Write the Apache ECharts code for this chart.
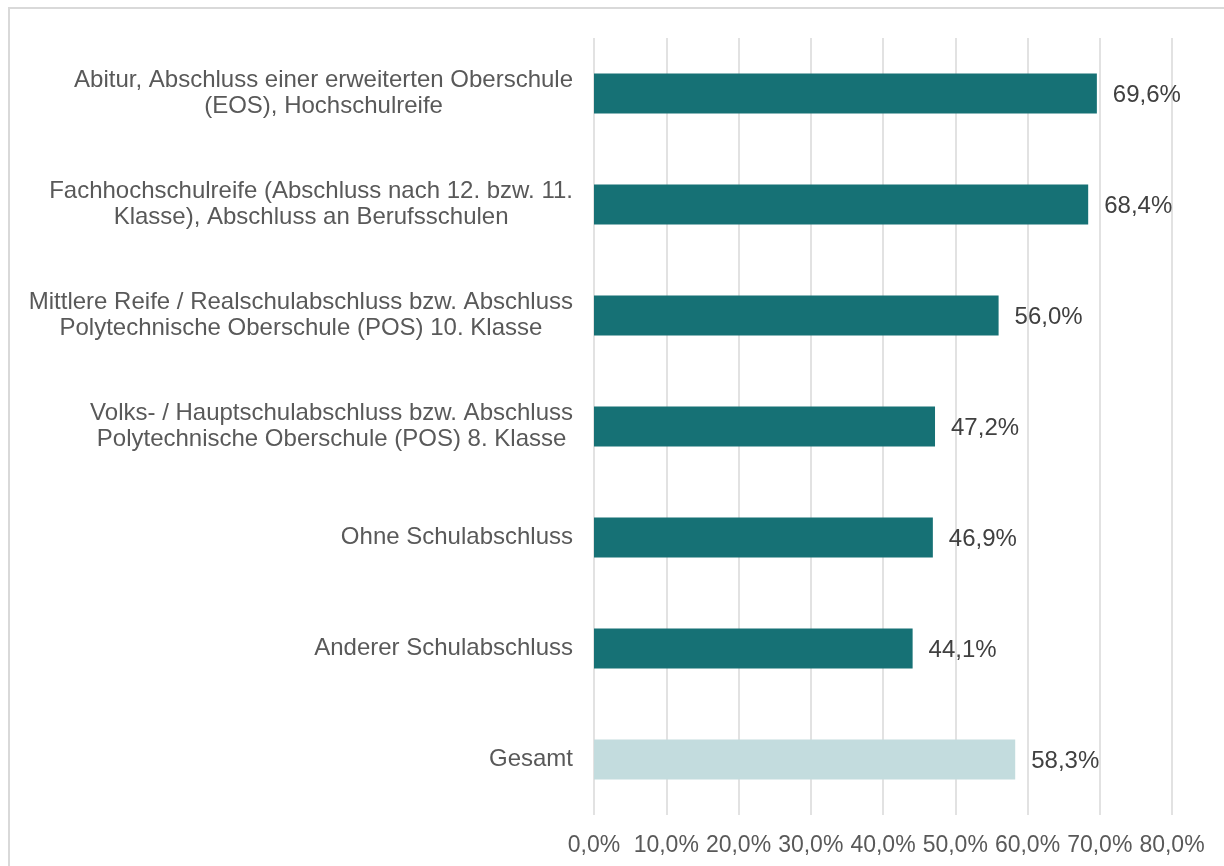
<!DOCTYPE html>
<html>
<head>
<meta charset="utf-8">
<script src="https://cdn.jsdelivr.net/npm/echarts@6/dist/echarts.min.js"></script>
<style>
  html, body { margin: 0; padding: 0; background: #fff; }
  #main { width: 1224px; height: 866px; }
</style>
</head>
<body>
<div id="main"></div>
<script>
const categories = [
  "Abitur, Abschluss einer erweiterten Oberschule\n(EOS), Hochschulreife",
  "Fachhochschulreife (Abschluss nach 12. bzw. 11.\nKlasse), Abschluss an Berufsschulen",
  "Mittlere Reife / Realschulabschluss bzw. Abschluss\nPolytechnische Oberschule (POS) 10. Klasse",
  "Volks- / Hauptschulabschluss bzw. Abschluss\nPolytechnische Oberschule (POS) 8. Klasse",
  "Ohne Schulabschluss",
  "Anderer Schulabschluss",
  "Gesamt"
];
const values = [69.6, 68.4, 56.0, 47.2, 46.9, 44.1, 58.3];
const highlightIndex = 6; // "Gesamt" drawn in light colour

const fmt = v => v.toFixed(1).replace(".", ",") + "%";

const myChart = echarts.init(document.getElementById("main"));

const option = {
  animation: false,
  textStyle: { fontFamily: "Liberation Sans, Arial, sans-serif" },
  graphic: [
    {
      type: "rect",
      shape: { x: 9, y: 8, width: 1400, height: 1000 },
      style: { fill: "none", stroke: "#d9d9d9", lineWidth: 2 },
      silent: true
    }
  ],
  grid: { left: 594, right: 52, top: 38, bottom: 51 },
  xAxis: {
    type: "value",
    min: 0,
    max: 80,
    interval: 10,
    axisLine: { show: false },
    axisTick: { show: false },
    splitLine: { show: true, lineStyle: { color: "#d9d9d9", width: 1.5 } },
    axisLabel: {
      color: "#595959",
      fontSize: 23,
      margin: 19,
      formatter: v => fmt(v)
    }
  },
  yAxis: {
    type: "category",
    inverse: true,
    data: categories,
    axisLine: { show: false },
    axisTick: { show: false },
    axisLabel: {
      color: "#595959",
      fontSize: 24,
      margin: 21,
      lineHeight: 26,
      formatter: v => v.split("\n").map(s => "{c|" + s + "}").join("\n"),
      rich: {
        c: { align: "center", color: "#595959", fontSize: 24, lineHeight: 26 }
      }
    }
  },
  series: [
    {
      type: "bar",
      barWidth: "36%",
      data: values.map((v, i) => ({
        value: v,
        itemStyle: { color: i === highlightIndex ? "#c3dcde" : "#167175" }
      })),
      label: {
        show: true,
        position: "right",
        distance: 16,
        offset: [0, 2],
        color: "#404040",
        fontSize: 24,
        formatter: p => fmt(p.value)
      }
    }
  ]
};

myChart.setOption(option);
</script>
</body>
</html>
